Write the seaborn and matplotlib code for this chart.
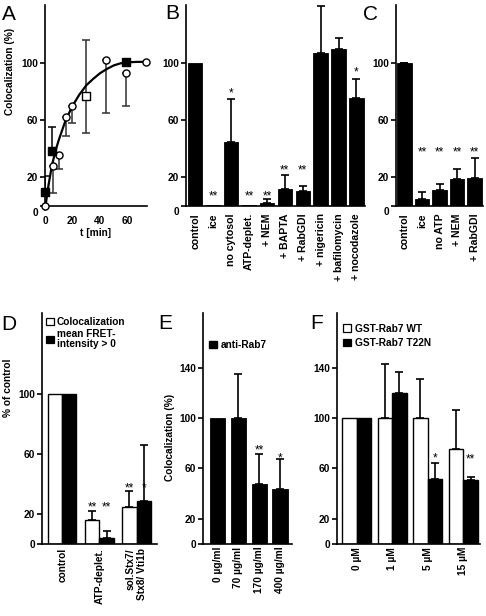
import numpy as np
import pandas as pd
import matplotlib
matplotlib.use('Agg')
import matplotlib.pyplot as plt
import matplotlib.transforms as mtransforms
from matplotlib.patches import Patch
import seaborn as sns

# ---------------- data ----------------
# Panel A (time course)
a_circle_t = [0, 5.5, 10.5, 15, 20, 44.5, 59, 73.5]
a_circle_y = [0, 28, 35.5, 62, 70, 102, 93, 100.7]
a_circle_err_lo = [0, 19, 10, 13, 12, 37, 23, 0]
a_fsq_t = [0, 5, 59]
a_fsq_y = [9.5, 38, 100.7]
a_fsq_err_hi = [11.5, 17, 0]
a_osq_t = [30]
a_osq_y = [76.8]
a_osq_err_lo = [26]
a_osq_err_hi = [39.5]
a_fit_t = [0, 2.5, 5, 7.5, 10, 12.5, 15, 20, 25, 30, 35, 40, 45, 50, 55, 60, 67, 74]
a_fit_y = [-3, 14, 28, 38, 46, 53, 60, 70, 78, 84.5, 89, 93, 96, 98.5, 100, 100.7, 101, 101]

# Panel B
b_labels = ['control', 'ice', 'no cytosol', 'ATP-deplet.', '+ NEM', '+ BAPTA',
            '+ RabGDI', '+ nigericin', '+ bafilomycin', '+ nocodazole']
b_values = [100, 0.8, 45, 0.8, 1.8, 11.7, 10.3, 107, 110, 76]
b_errors = [0, 0, 30, 0, 2.7, 10.1, 3.7, 33, 8, 13]
b_stars = ['', '**', '*', '**', '**', '**', '**', '', '', '*']
b_star_y = [0, 9.4, 81.8, 9.4, 9, 27.4, 27.4, 0, 0, 96.5]

# Panel C
c_labels = ['control', 'ice', 'no ATP', '+ NEM', '+ RabGDI']
c_values = [100, 4.7, 10.8, 19, 19.3]
c_errors = [0.6, 4.7, 4.4, 6.8, 14.2]
c_stars = ['', '**', '**', '**', '**']
c_star_y = [0, 39.8, 39.8, 39.8, 39.8]

# Panel D
d_groups = ['control', 'ATP-deplet.', 'sol.Stx7/\nStx8/ Vti1b']
d_series = ['Colocalization', 'mean FRET-\nintensity > 0']
d_coloc = [100, 16.2, 25]
d_coloc_err = [0, 6.2, 10.7]
d_fret = [100, 4.4, 28.9]
d_fret_err = [0, 4.5, 37.5]
d_coloc_stars = ['', '**', '**']
d_fret_stars = ['', '**', '*']
d_star_y = [0, 27.3, 39.5]

# Panel E
e_labels = ['0 µg/ml', '70 µg/ml', '170 µg/ml', '400 µg/ml']
e_values = [100, 100, 47.3, 43.8]
e_errors = [0, 35, 23.8, 23.3]
e_stars = ['', '', '**', '*']
e_star_y = [0, 0, 77.1, 70.5]
e_legend = 'anti-Rab7'

# Panel F
f_labels = ['0 µM', '1 µM', '5 µM', '15 µM']
f_series = ['GST-Rab7 WT', 'GST-Rab7 T22N']
f_wt = [100, 100, 100, 75]
f_wt_err = [0, 43, 31, 31]
f_t22n = [100, 119.4, 51.3, 50.7]
f_t22n_err = [0, 17, 13, 2.7]
f_t22n_stars = ['', '', '*', '**']
f_star_y = [0, 0, 71.1, 69.7]

# ---------------- style ----------------
sns.set_style('ticks')
plt.rcParams['font.family'] = ['Liberation Sans', 'DejaVu Sans']
plt.rcParams['font.weight'] = 'bold'
plt.rcParams['axes.labelweight'] = 'bold'
for k in ['text.color', 'axes.labelcolor', 'xtick.color', 'ytick.color', 'axes.edgecolor']:
    plt.rcParams[k] = 'black'

W, H = 486, 616
fig = plt.figure(figsize=(W / 100, H / 100), dpi=100)
FS = 7.3
CFS = 7.6
SFS = 8.5
LW = 1.2


def px_axes(x0, y0, x1, y1):
    return fig.add_axes([x0 / W, 1 - y1 / H, (x1 - x0) / W, (y1 - y0) / H])


def base_style(ax, yticks, ylim, xpad):
    sns.despine(ax=ax)
    for s in ['left', 'bottom']:
        ax.spines[s].set_linewidth(LW)
    ax.set_ylim(*ylim)
    ax.set_yticks(yticks)
    ax.set_yticklabels([str(v) for v in yticks])
    ax.tick_params(axis='y', length=3.5, width=LW, pad=1.5, labelsize=FS)
    ax.tick_params(axis='x', length=0, labelsize=FS, pad=xpad)
    ax.set_xlabel('')
    ax.set_ylabel('')


def shift_zero(ax, dy_px):
    t = ax.yaxis.get_major_ticks()[0]
    t.label1.set_transform(t.label1.get_transform() +
                           mtransforms.ScaledTranslation(0, -dy_px / 100, fig.dpi_scale_trans))


def add_err(ax, container, errs):
    xs, ys, es = [], [], []
    for p, e in zip(container, errs):
        if e > 0:
            xs.append(p.get_x() + p.get_width() / 2)
            ys.append(p.get_height())
            es.append(e)
    ax.errorbar(xs, ys, yerr=[np.zeros(len(es)), es], fmt='none', ecolor='black',
                elinewidth=LW, capsize=3.2, capthick=LW, clip_on=False, zorder=3)


def add_stars(ax, container, stars, ys):
    tr = mtransforms.offset_copy(ax.transData, fig=fig, y=-0.57 * SFS, units='points')
    for p, s, y in zip(container, stars, ys):
        if s:
            ax.text(p.get_x() + p.get_width() / 2, y, s, transform=tr, ha='center',
                    va='baseline', fontsize=SFS, fontweight='normal')


def cat_labels(ax, labels, size=FS):
    ax.set_xticks(range(len(labels)))
    ax.set_xticklabels(labels, rotation=90, ha='center', va='top', multialignment='right',
                       fontsize=size, fontweight='bold')


# ---------------- Panel A ----------------
axA = px_axes(45, 5, 147, 205.5)
sns.lineplot(x=a_fit_t, y=a_fit_y, color='black', lw=1.6, ax=axA, clip_on=False, zorder=2)
ci = [i for i, e in enumerate(a_circle_err_lo) if e > 0]
axA.errorbar([a_circle_t[i] for i in ci], [a_circle_y[i] for i in ci],
             yerr=[[a_circle_err_lo[i] for i in ci], [0] * len(ci)], fmt='none',
             ecolor='#303030', elinewidth=1.1, capsize=2.6, capthick=1.1, zorder=1)
fi = [i for i, e in enumerate(a_fsq_err_hi) if e > 0]
axA.errorbar([a_fsq_t[i] for i in fi], [a_fsq_y[i] for i in fi],
             yerr=[[0] * len(fi), [a_fsq_err_hi[i] for i in fi]], fmt='none',
             ecolor='black', elinewidth=1.1, capsize=2.6, capthick=1.1, zorder=1)
axA.errorbar(a_osq_t, a_osq_y, yerr=[a_osq_err_lo, a_osq_err_hi], fmt='none',
             ecolor='#303030', elinewidth=1.1, capsize=2.6, capthick=1.1, zorder=1)
sns.scatterplot(x=a_circle_t, y=a_circle_y, marker='o', s=26, color='white',
                edgecolor='black', linewidth=1, ax=axA, zorder=4, clip_on=False)
sns.scatterplot(x=a_fsq_t, y=a_fsq_y, marker='s', s=26, color='black',
                edgecolor='black', linewidth=1, ax=axA, zorder=4, clip_on=False)
sns.scatterplot(x=a_osq_t, y=a_osq_y, marker='s', s=26, color='white',
                edgecolor='black', linewidth=1, ax=axA, zorder=4, clip_on=False)
axA.set_xlim(0, 74.2)
base_style(axA, [0, 20, 60, 100], (0, 141), 7.5)
axA.set_xticks([0, 20, 40, 60])
axA.set_xticklabels(['0', '20', '40', '60'], fontsize=FS, fontweight='bold')
axA.tick_params(axis='x', length=0, pad=7.5)
shift_zero(axA, 6)
axA.set_ylabel('Colocalization (%)', fontsize=FS, fontweight='bold')
axA.yaxis.set_label_coords(-0.294, 0.671)
axA.set_xlabel('t [min]', fontsize=FS, fontweight='bold')
axA.xaxis.set_label_coords(0.5, -0.112)

# ---------------- Panel B ----------------
axB = px_axes(186.3, 5, 365.4, 205.7)
dfB = pd.DataFrame({'cond': b_labels, 'val': b_values})
sns.barplot(data=dfB, x='cond', y='val', color='black', width=0.8, errorbar=None,
            saturation=1, edgecolor='black', linewidth=0.6, ax=axB)
add_err(axB, axB.containers[0], b_errors)
add_stars(axB, axB.containers[0], b_stars, b_star_y)
axB.set_xlim(-0.5, 9.5)
base_style(axB, [0, 20, 60, 100], (0, 141), 5.3)
cat_labels(axB, b_labels, CFS)
shift_zero(axB, 5)

# ---------------- Panel C ----------------
axC = px_axes(395.7, 5, 483.3, 205.7)
dfC = pd.DataFrame({'cond': c_labels, 'val': c_values})
sns.barplot(data=dfC, x='cond', y='val', color='black', width=0.82, errorbar=None,
            saturation=1, edgecolor='black', linewidth=0.6, ax=axC)
add_err(axC, axC.containers[0], c_errors)
add_stars(axC, axC.containers[0], c_stars, c_star_y)
axC.set_xlim(-0.5, 4.5)
base_style(axC, [0, 20, 60, 100], (0, 141), 5.3)
cat_labels(axC, c_labels, CFS)
shift_zero(axC, 5)

# ---------------- Panel D ----------------
axD = px_axes(41.7, 313.3, 157, 544.3)
dfD = pd.DataFrame({'group': d_groups * 2,
                    'series': [d_series[0]] * 3 + [d_series[1]] * 3,
                    'val': d_coloc + d_fret})
sns.barplot(data=dfD, x='group', y='val', hue='series', hue_order=d_series,
            palette=['white', 'black'], width=0.77, errorbar=None, saturation=1,
            edgecolor='black', linewidth=1.0, legend=False, ax=axD)
add_err(axD, axD.containers[0], d_coloc_err)
add_err(axD, axD.containers[1], d_fret_err)
add_stars(axD, axD.containers[0], d_coloc_stars, d_star_y)
add_stars(axD, axD.containers[1], d_fret_stars, d_star_y)
axD.set_xlim(-0.55, 2.55)
base_style(axD, [0, 20, 60, 100], (0, 154), 2.7)
cat_labels(axD, d_groups)
axD.set_ylabel('% of control', fontsize=FS, fontweight='bold')
axD.yaxis.set_label_coords(-0.246, 0.677)
hD = [Patch(facecolor='white', edgecolor='black', linewidth=0.9),
      Patch(facecolor='black', edgecolor='black', linewidth=0.9)]
legD = axD.legend(hD, d_series, loc='upper left', bbox_to_anchor=(0.037, 0.985),
                  frameon=False, prop={'size': FS, 'weight': 'bold'}, handlelength=0.75,
                  handleheight=0.75, handletextpad=0.35, labelspacing=0.25,
                  borderpad=0, borderaxespad=0)
for t in legD.get_texts():
    t.set_linespacing(0.95)

# ---------------- Panel E ----------------
axE = px_axes(203.3, 313.3, 291.7, 544)
dfE = pd.DataFrame({'conc': e_labels, 'val': e_values})
sns.barplot(data=dfE, x='conc', y='val', color='black', width=0.74, errorbar=None,
            saturation=1, edgecolor='black', linewidth=0.6, ax=axE)
add_err(axE, axE.containers[0], e_errors)
add_stars(axE, axE.containers[0], e_stars, e_star_y)
axE.set_xlim(-0.68, 3.55)
base_style(axE, [0, 20, 60, 100, 140], (0, 183), 2.0)
cat_labels(axE, e_labels)
axE.set_ylabel('Colocalization (%)', fontsize=FS, fontweight='bold')
axE.yaxis.set_label_coords(-0.32, 0.461)
axE.legend([Patch(facecolor='black', edgecolor='black')], [e_legend], loc='upper left',
           bbox_to_anchor=(0.068, 0.885), frameon=False, prop={'size': FS, 'weight': 'bold'},
           handlelength=0.75, handleheight=0.75, handletextpad=0.35, borderpad=0,
           borderaxespad=0)

# ---------------- Panel F ----------------
axF = px_axes(336.7, 313.3, 480, 544)
dfF = pd.DataFrame({'conc': f_labels * 2,
                    'series': [f_series[0]] * 4 + [f_series[1]] * 4,
                    'val': f_wt + f_t22n})
sns.barplot(data=dfF, x='conc', y='val', hue='series', hue_order=f_series,
            palette=['white', 'black'], width=0.82, errorbar=None, saturation=1,
            edgecolor='black', linewidth=1.0, legend=False, ax=axF)
add_err(axF, axF.containers[0], f_wt_err)
add_err(axF, axF.containers[1], f_t22n_err)
add_stars(axF, axF.containers[1], f_t22n_stars, f_star_y)
axF.set_xlim(-0.56, 3.47)
base_style(axF, [0, 20, 60, 100, 140], (0, 183), 2.2)
cat_labels(axF, f_labels)
hF = [Patch(facecolor='white', edgecolor='black', linewidth=0.9),
      Patch(facecolor='black', edgecolor='black', linewidth=0.9)]
axF.legend(hF, f_series, loc='upper left', bbox_to_anchor=(0.046, 0.955), frameon=False,
           prop={'size': FS, 'weight': 'bold'}, handlelength=0.75, handleheight=0.75,
           handletextpad=0.45, labelspacing=0.45, borderpad=0, borderaxespad=0)

# ---------------- panel letters ----------------
for letter, x, y in [('A', 2, 20), ('B', 165, 19), ('C', 363, 19.5),
                     ('D', 1.5, 330), ('E', 158, 329), ('F', 310, 329)]:
    fig.text(x / W, 1 - y / H, letter, fontsize=15, fontweight='normal',
             ha='left', va='baseline')

fig.savefig('out.png', dpi=100)
